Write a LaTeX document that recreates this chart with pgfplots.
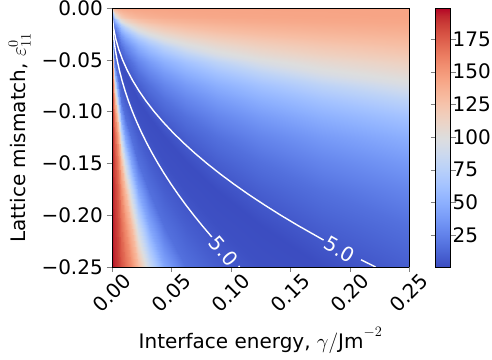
\documentclass[border=0pt]{standalone}
\usepackage{fontspec}
\setmainfont{DejaVu Sans}
\usepackage{pgfplots}
\pgfplotsset{compat=1.18}

\pgfplotsset{
  colormap={coolwarm}{
    rgb255=(59,76,192) rgb255=(68,90,204) rgb255=(77,104,215) rgb255=(87,117,225)
    rgb255=(98,130,234) rgb255=(108,142,241) rgb255=(119,154,247) rgb255=(130,165,251)
    rgb255=(141,176,254) rgb255=(152,185,255) rgb255=(163,194,255) rgb255=(174,201,253)
    rgb255=(184,208,249) rgb255=(194,213,244) rgb255=(204,217,238) rgb255=(213,219,230)
    rgb255=(221,221,221) rgb255=(229,216,209) rgb255=(236,211,197) rgb255=(241,204,185)
    rgb255=(245,196,173) rgb255=(247,187,160) rgb255=(247,177,148) rgb255=(247,166,135)
    rgb255=(244,154,123) rgb255=(241,141,111) rgb255=(236,127,99) rgb255=(229,112,88)
    rgb255=(222,96,77) rgb255=(213,80,66) rgb255=(203,62,56) rgb255=(192,40,47)
    rgb255=(180,4,38)
  },
}
\newcommand{\bigfont}{\fontsize{20}{24}\selectfont}

\begin{document}
\bigfont
\begin{tikzpicture}
\begin{axis}[
  name=main,
  view={0}{90},
  scale only axis,
  width=297pt, height=259pt,
  xmin=0, xmax=0.25, ymin=-0.25, ymax=0,
  axis on top,
  tick pos=left,
  tick align=outside,
  major tick length=5pt,
  xtick={0,0.05,0.1,0.15,0.2,0.25},
  xticklabels={0.00,0.05,0.10,0.15,0.20,0.25},
  ytick={-0.25,-0.2,-0.15,-0.1,-0.05,0},
  yticklabels={−0.25,−0.20,−0.15,−0.10,−0.05,0.00},
  ztick=\empty,
  tick label style={font=\bigfont},
  label style={font=\bigfont},
  xticklabel style={rotate=45, anchor=center, inner sep=0pt},
  xticklabel shift=21pt,
  yticklabel style={inner sep=4pt},
  xlabel style={yshift=-6pt},
  xlabel={Interface energy, $\gamma/\mathrm{Jm}^{-2}$},
  ylabel={Lattice mismatch, $\varepsilon_{11}^{0}$},
  colormap name=coolwarm,
  point meta min=0.7, point meta max=198.7,
  colorbar,
  colorbar style={
    width=15pt,
    at={(parent axis.north east)}, anchor=north west, xshift=18pt,
    ytick={25,50,75,100,125,150,175},
    yticklabels={25,50,75,100,125,150,175},
    tick align=outside, major tick length=5pt,
    tick label style={font=\bigfont},
    yticklabel style={inner sep=1pt, xshift=-4pt},
  },
]
% value on a mesh spaced by sqrt(2) in x and in y^2
\addplot3[surf, shader=interp, mesh/ordering=x varies, mesh/cols=18, point meta=z] coordinates {
(0,-0.25,196) (0.00098,-0.25,196) (0.00138,-0.25,195) (0.00195,-0.25,193.5) (0.00276,-0.25,191.5) (0.00391,-0.25,189) (0.00552,-0.25,185) (0.00781,-0.25,179) (0.01105,-0.25,170) (0.01563,-0.25,156) (0.0221,-0.25,132) (0.03125,-0.25,88) (0.04419,-0.25,45) (0.0625,-0.25,17) (0.08839,-0.25,8.5) (0.125,-0.25,2.4) (0.17678,-0.25,1.0) (0.25,-0.25,9)
(0,-0.21022,195) (0.00098,-0.21022,195) (0.00138,-0.21022,193.5) (0.00195,-0.21022,191.5) (0.00276,-0.21022,189) (0.00391,-0.21022,185) (0.00552,-0.21022,179) (0.00781,-0.21022,170) (0.01105,-0.21022,156) (0.01563,-0.21022,132) (0.0221,-0.21022,88) (0.03125,-0.21022,45) (0.04419,-0.21022,17) (0.0625,-0.21022,8.5) (0.08839,-0.21022,2.4) (0.125,-0.21022,1.0) (0.17678,-0.21022,9) (0.25,-0.21022,17)
(0,-0.17678,193.5) (0.00098,-0.17678,193.5) (0.00138,-0.17678,191.5) (0.00195,-0.17678,189) (0.00276,-0.17678,185) (0.00391,-0.17678,179) (0.00552,-0.17678,170) (0.00781,-0.17678,156) (0.01105,-0.17678,132) (0.01563,-0.17678,88) (0.0221,-0.17678,45) (0.03125,-0.17678,17) (0.04419,-0.17678,8.5) (0.0625,-0.17678,2.4) (0.08839,-0.17678,1.0) (0.125,-0.17678,9) (0.17678,-0.17678,17) (0.25,-0.17678,27)
(0,-0.14865,191.5) (0.00098,-0.14865,191.5) (0.00138,-0.14865,189) (0.00195,-0.14865,185) (0.00276,-0.14865,179) (0.00391,-0.14865,170) (0.00552,-0.14865,156) (0.00781,-0.14865,132) (0.01105,-0.14865,88) (0.01563,-0.14865,45) (0.0221,-0.14865,17) (0.03125,-0.14865,8.5) (0.04419,-0.14865,2.4) (0.0625,-0.14865,1.0) (0.08839,-0.14865,9) (0.125,-0.14865,17) (0.17678,-0.14865,27) (0.25,-0.14865,38)
(0,-0.125,189) (0.00098,-0.125,189) (0.00138,-0.125,185) (0.00195,-0.125,179) (0.00276,-0.125,170) (0.00391,-0.125,156) (0.00552,-0.125,132) (0.00781,-0.125,88) (0.01105,-0.125,45) (0.01563,-0.125,17) (0.0221,-0.125,8.5) (0.03125,-0.125,2.4) (0.04419,-0.125,1.0) (0.0625,-0.125,9) (0.08839,-0.125,17) (0.125,-0.125,27) (0.17678,-0.125,38) (0.25,-0.125,50)
(0,-0.10511,185) (0.00098,-0.10511,185) (0.00138,-0.10511,179) (0.00195,-0.10511,170) (0.00276,-0.10511,156) (0.00391,-0.10511,132) (0.00552,-0.10511,88) (0.00781,-0.10511,45) (0.01105,-0.10511,17) (0.01563,-0.10511,8.5) (0.0221,-0.10511,2.4) (0.03125,-0.10511,1.0) (0.04419,-0.10511,9) (0.0625,-0.10511,17) (0.08839,-0.10511,27) (0.125,-0.10511,38) (0.17678,-0.10511,50) (0.25,-0.10511,63)
(0,-0.08839,179) (0.00098,-0.08839,179) (0.00138,-0.08839,170) (0.00195,-0.08839,156) (0.00276,-0.08839,132) (0.00391,-0.08839,88) (0.00552,-0.08839,45) (0.00781,-0.08839,17) (0.01105,-0.08839,8.5) (0.01563,-0.08839,2.4) (0.0221,-0.08839,1.0) (0.03125,-0.08839,9) (0.04419,-0.08839,17) (0.0625,-0.08839,27) (0.08839,-0.08839,38) (0.125,-0.08839,50) (0.17678,-0.08839,63) (0.25,-0.08839,78)
(0,-0.07433,170) (0.00098,-0.07433,170) (0.00138,-0.07433,156) (0.00195,-0.07433,132) (0.00276,-0.07433,88) (0.00391,-0.07433,45) (0.00552,-0.07433,17) (0.00781,-0.07433,8.5) (0.01105,-0.07433,2.4) (0.01563,-0.07433,1.0) (0.0221,-0.07433,9) (0.03125,-0.07433,17) (0.04419,-0.07433,27) (0.0625,-0.07433,38) (0.08839,-0.07433,50) (0.125,-0.07433,63) (0.17678,-0.07433,78) (0.25,-0.07433,96)
(0,-0.0625,156) (0.00098,-0.0625,156) (0.00138,-0.0625,132) (0.00195,-0.0625,88) (0.00276,-0.0625,45) (0.00391,-0.0625,17) (0.00552,-0.0625,8.5) (0.00781,-0.0625,2.4) (0.01105,-0.0625,1.0) (0.01563,-0.0625,9) (0.0221,-0.0625,17) (0.03125,-0.0625,27) (0.04419,-0.0625,38) (0.0625,-0.0625,50) (0.08839,-0.0625,63) (0.125,-0.0625,78) (0.17678,-0.0625,96) (0.25,-0.0625,106)
(0,-0.05256,132) (0.00098,-0.05256,132) (0.00138,-0.05256,88) (0.00195,-0.05256,45) (0.00276,-0.05256,17) (0.00391,-0.05256,8.5) (0.00552,-0.05256,2.4) (0.00781,-0.05256,1.0) (0.01105,-0.05256,9) (0.01563,-0.05256,17) (0.0221,-0.05256,27) (0.03125,-0.05256,38) (0.04419,-0.05256,50) (0.0625,-0.05256,63) (0.08839,-0.05256,78) (0.125,-0.05256,96) (0.17678,-0.05256,106) (0.25,-0.05256,115)
(0,-0.04419,88) (0.00098,-0.04419,88) (0.00138,-0.04419,45) (0.00195,-0.04419,17) (0.00276,-0.04419,8.5) (0.00391,-0.04419,2.4) (0.00552,-0.04419,1.0) (0.00781,-0.04419,9) (0.01105,-0.04419,17) (0.01563,-0.04419,27) (0.0221,-0.04419,38) (0.03125,-0.04419,50) (0.04419,-0.04419,63) (0.0625,-0.04419,78) (0.08839,-0.04419,96) (0.125,-0.04419,106) (0.17678,-0.04419,115) (0.25,-0.04419,122)
(0,-0.03716,45) (0.00098,-0.03716,45) (0.00138,-0.03716,17) (0.00195,-0.03716,8.5) (0.00276,-0.03716,2.4) (0.00391,-0.03716,1.0) (0.00552,-0.03716,9) (0.00781,-0.03716,17) (0.01105,-0.03716,27) (0.01563,-0.03716,38) (0.0221,-0.03716,50) (0.03125,-0.03716,63) (0.04419,-0.03716,78) (0.0625,-0.03716,96) (0.08839,-0.03716,106) (0.125,-0.03716,115) (0.17678,-0.03716,122) (0.25,-0.03716,128)
(0,-0.03125,17) (0.00098,-0.03125,17) (0.00138,-0.03125,8.5) (0.00195,-0.03125,2.4) (0.00276,-0.03125,1.0) (0.00391,-0.03125,9) (0.00552,-0.03125,17) (0.00781,-0.03125,27) (0.01105,-0.03125,38) (0.01563,-0.03125,50) (0.0221,-0.03125,63) (0.03125,-0.03125,78) (0.04419,-0.03125,96) (0.0625,-0.03125,106) (0.08839,-0.03125,115) (0.125,-0.03125,122) (0.17678,-0.03125,128) (0.25,-0.03125,132)
(0,-0.02628,8.5) (0.00098,-0.02628,8.5) (0.00138,-0.02628,2.4) (0.00195,-0.02628,1.0) (0.00276,-0.02628,9) (0.00391,-0.02628,17) (0.00552,-0.02628,27) (0.00781,-0.02628,38) (0.01105,-0.02628,50) (0.01563,-0.02628,63) (0.0221,-0.02628,78) (0.03125,-0.02628,96) (0.04419,-0.02628,106) (0.0625,-0.02628,115) (0.08839,-0.02628,122) (0.125,-0.02628,128) (0.17678,-0.02628,132) (0.25,-0.02628,135.5)
(0,-0.0221,2.4) (0.00098,-0.0221,2.4) (0.00138,-0.0221,1.0) (0.00195,-0.0221,9) (0.00276,-0.0221,17) (0.00391,-0.0221,27) (0.00552,-0.0221,38) (0.00781,-0.0221,50) (0.01105,-0.0221,63) (0.01563,-0.0221,78) (0.0221,-0.0221,96) (0.03125,-0.0221,106) (0.04419,-0.0221,115) (0.0625,-0.0221,122) (0.08839,-0.0221,128) (0.125,-0.0221,132) (0.17678,-0.0221,135.5) (0.25,-0.0221,138)
(0,-0.01858,1.0) (0.00098,-0.01858,1.0) (0.00138,-0.01858,9) (0.00195,-0.01858,17) (0.00276,-0.01858,27) (0.00391,-0.01858,38) (0.00552,-0.01858,50) (0.00781,-0.01858,63) (0.01105,-0.01858,78) (0.01563,-0.01858,96) (0.0221,-0.01858,106) (0.03125,-0.01858,115) (0.04419,-0.01858,122) (0.0625,-0.01858,128) (0.08839,-0.01858,132) (0.125,-0.01858,135.5) (0.17678,-0.01858,138) (0.25,-0.01858,140)
(0,-0.01563,9) (0.00098,-0.01563,9) (0.00138,-0.01563,17) (0.00195,-0.01563,27) (0.00276,-0.01563,38) (0.00391,-0.01563,50) (0.00552,-0.01563,63) (0.00781,-0.01563,78) (0.01105,-0.01563,96) (0.01563,-0.01563,106) (0.0221,-0.01563,115) (0.03125,-0.01563,122) (0.04419,-0.01563,128) (0.0625,-0.01563,132) (0.08839,-0.01563,135.5) (0.125,-0.01563,138) (0.17678,-0.01563,140) (0.25,-0.01563,141.5)
(0,-0.01314,17) (0.00098,-0.01314,17) (0.00138,-0.01314,27) (0.00195,-0.01314,38) (0.00276,-0.01314,50) (0.00391,-0.01314,63) (0.00552,-0.01314,78) (0.00781,-0.01314,96) (0.01105,-0.01314,106) (0.01563,-0.01314,115) (0.0221,-0.01314,122) (0.03125,-0.01314,128) (0.04419,-0.01314,132) (0.0625,-0.01314,135.5) (0.08839,-0.01314,138) (0.125,-0.01314,140) (0.17678,-0.01314,141.5) (0.25,-0.01314,142.5)
(0,-0.01105,27) (0.00098,-0.01105,27) (0.00138,-0.01105,38) (0.00195,-0.01105,50) (0.00276,-0.01105,63) (0.00391,-0.01105,78) (0.00552,-0.01105,96) (0.00781,-0.01105,106) (0.01105,-0.01105,115) (0.01563,-0.01105,122) (0.0221,-0.01105,128) (0.03125,-0.01105,132) (0.04419,-0.01105,135.5) (0.0625,-0.01105,138) (0.08839,-0.01105,140) (0.125,-0.01105,141.5) (0.17678,-0.01105,142.5) (0.25,-0.01105,143)
(0,-0.00929,38) (0.00098,-0.00929,38) (0.00138,-0.00929,50) (0.00195,-0.00929,63) (0.00276,-0.00929,78) (0.00391,-0.00929,96) (0.00552,-0.00929,106) (0.00781,-0.00929,115) (0.01105,-0.00929,122) (0.01563,-0.00929,128) (0.0221,-0.00929,132) (0.03125,-0.00929,135.5) (0.04419,-0.00929,138) (0.0625,-0.00929,140) (0.08839,-0.00929,141.5) (0.125,-0.00929,142.5) (0.17678,-0.00929,143) (0.25,-0.00929,143.5)
(0,-0.00781,50) (0.00098,-0.00781,50) (0.00138,-0.00781,63) (0.00195,-0.00781,78) (0.00276,-0.00781,96) (0.00391,-0.00781,106) (0.00552,-0.00781,115) (0.00781,-0.00781,122) (0.01105,-0.00781,128) (0.01563,-0.00781,132) (0.0221,-0.00781,135.5) (0.03125,-0.00781,138) (0.04419,-0.00781,140) (0.0625,-0.00781,141.5) (0.08839,-0.00781,142.5) (0.125,-0.00781,143) (0.17678,-0.00781,143.5) (0.25,-0.00781,144)
(0,0,126) (0.00098,0,126) (0.00138,0,130) (0.00195,0,134) (0.00276,0,137) (0.00391,0,139) (0.00552,0,141) (0.00781,0,142) (0.01105,0,143) (0.01563,0,143.3) (0.0221,0,143.6) (0.03125,0,144) (0.04419,0,144) (0.0625,0,144) (0.08839,0,144) (0.125,0,144) (0.17678,0,144) (0.25,0,144)
};
% contour at 5.0, broken where the label sits
\addplot[white, line width=1.4pt] coordinates {
(0,0) (0.000172,-0.01) (0.000688,-0.02) (0.00155,-0.03) (0.00275,-0.04) (0.0043,-0.05)
(0.00619,-0.06) (0.00843,-0.07) (0.01101,-0.08) (0.01393,-0.09) (0.0172,-0.10)
(0.02081,-0.11) (0.02477,-0.12) (0.02907,-0.13) (0.03371,-0.14) (0.0387,-0.15)
(0.04403,-0.16) (0.04971,-0.17) (0.05573,-0.18) (0.06209,-0.19) (0.0688,-0.20)
(0.07585,-0.21) (0.0840,-0.221)
} node[pos=1, sloped, anchor=west, inner sep=2pt, text=white, font=\bigfont] {5.0};
\addplot[white, line width=1.4pt] coordinates {(0.10664,-0.249) (0.1075,-0.25)};
\addplot[white, line width=1.4pt] coordinates {
(0,0) (0.000355,-0.01) (0.00142,-0.02) (0.0032,-0.03) (0.00568,-0.04) (0.00888,-0.05)
(0.01278,-0.06) (0.0174,-0.07) (0.02272,-0.08) (0.02876,-0.09) (0.0355,-0.10)
(0.04296,-0.11) (0.05112,-0.12) (0.06,-0.13) (0.06958,-0.14) (0.07988,-0.15)
(0.09088,-0.16) (0.1026,-0.17) (0.115,-0.18) (0.1282,-0.19) (0.142,-0.20)
(0.1566,-0.21) (0.1781,-0.224)
} node[pos=1, sloped, anchor=west, inner sep=2pt, text=white, font=\bigfont] {5.0};
\addplot[white, line width=1.4pt] coordinates {(0.2096,-0.243) (0.2131,-0.245) (0.2219,-0.25)};
\end{axis}
\pgfresetboundingbox
\path ([shift={(-112pt,-93pt)}]main.south west) rectangle ([shift={(83pt,8pt)}]main.north east);
\end{tikzpicture}
\end{document}
